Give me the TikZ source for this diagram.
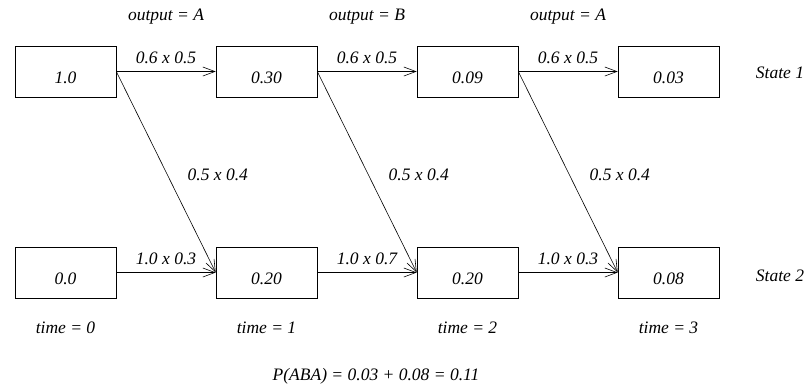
\documentclass[tikz,border=0pt]{standalone}
\usepackage{fontspec}
\setmainfont{Liberation Serif}
\usetikzlibrary{arrows.meta,positioning}

\begin{document}
\begin{tikzpicture}[->,>={Straight Barb[length=12pt,width=9pt]},semithick,
                    node distance=201pt,
                    font=\fontsize{17.5}{20}\selectfont\itshape]
  \tikzstyle{cell}=[draw,-,minimum width=101pt,minimum height=51pt,
                    text height=24pt,text depth=0pt]
  \tikzstyle{weight}=[above=4pt]
  \tikzstyle{diag}=[midway,right=18pt,yshift=-3pt]
  \useasboundingbox (0pt,0pt) rectangle (807pt,-389pt);

  \node[cell]          (T0) at (65.5pt,-71.5pt) {1.0};
  \node[cell]          (T1) [right of=T0] {0.30};
  \node[cell]          (T2) [right of=T1] {0.09};
  \node[cell]          (T3) [right of=T2] {0.03};
  \node[cell]          (B0) [below of=T0] {0.0};
  \node[cell]          (B1) [right of=B0] {0.20};
  \node[cell]          (B2) [right of=B1] {0.20};
  \node[cell]          (B3) [right of=B2] {0.08};

  \path (T0) edge              node[weight] (W01) {0.6 x 0.5} (T1)
        (T1) edge              node[weight] (W12) {0.6 x 0.5} (T2)
        (T2) edge              node[weight] (W23) {0.6 x 0.5} (T3)
        (B0) edge              node[weight] {1.0 x 0.3} (B1)
        (B1) edge              node[weight] {1.0 x 0.7} (B2)
        (B2) edge              node[weight] {1.0 x 0.3} (B3)
        (T0.east) edge         node[diag] {0.5 x 0.4} (B1.west)
        (T1.east) edge         node[diag] {0.5 x 0.4} (B2.west)
        (T2.east) edge         node[diag] {0.5 x 0.4} (B3.west)
;

  \node (O1) [above=20pt of W01] {output = A};
  \node (O2) [above=20pt of W12] {output = B};
  \node (O3) [above=20pt of W23] {output = A};

  \node (S1) [right=33pt of T3,yshift=-1pt] {State 1};
  \node (S2) [right=33pt of B3,yshift=-3pt] {State 2};

  \node (t0) [below=20pt of B0] {time = 0};
  \node (t1) [below=20pt of B1] {time = 1};
  \node (t2) [below=20pt of B2] {time = 2};
  \node (t3) [below=20pt of B3] {time = 3};

  \node (P) at (376pt,-376pt) {P(ABA) = 0.03 + 0.08 = 0.11};
\end{tikzpicture}
\end{document}
